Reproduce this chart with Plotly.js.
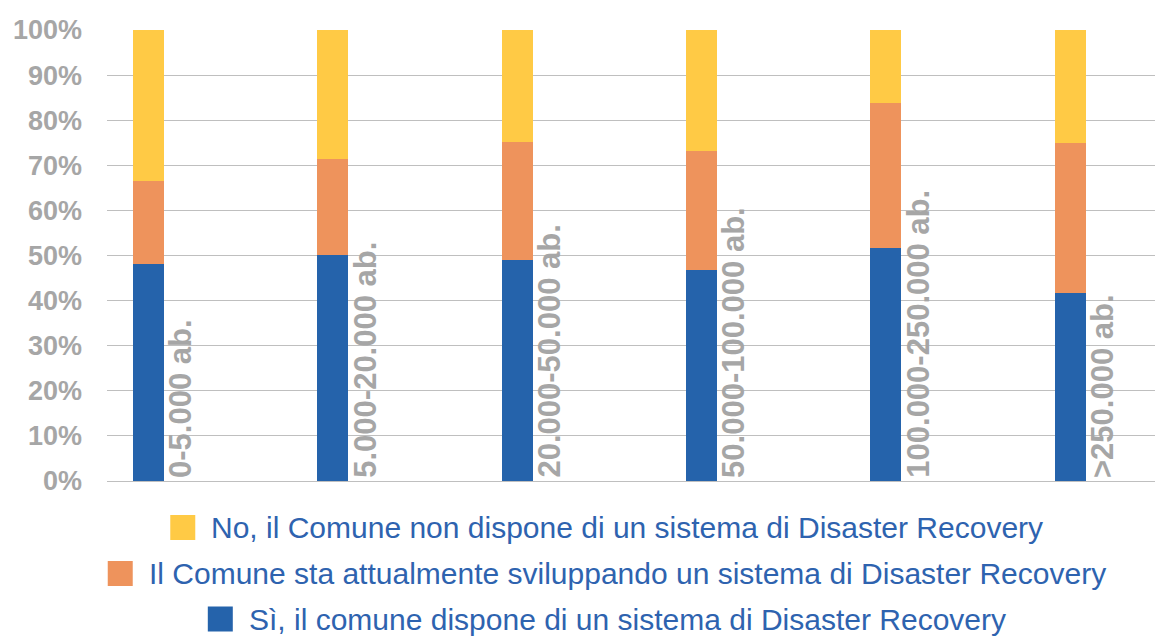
<!DOCTYPE html>
<html>
<head>
<meta charset="utf-8">
<script src="https://cdn.plot.ly/plotly-3.0.1.min.js"></script>
<style>
  html, body { margin: 0; padding: 0; background: #ffffff; }
  #chart { width: 1155px; height: 636px; }
</style>
</head>
<body>
<div id="chart"></div>
<script>
// Fasce di popolazione dei Comuni
const categories = ['0-5.000 ab.', '5.000-20.000 ab.', '20.000-50.000 ab.', '50.000-100.000 ab.', '100.000-250.000 ab.', '>250.000 ab.'];

// Quote percentuali per risposta
const siValues       = [48.2, 50.2, 49.0, 46.8, 51.6, 41.7];
const sviluppoValues = [18.3, 21.2, 26.2, 26.4, 32.2, 33.3];
const noValues       = [33.5, 28.6, 24.8, 26.8, 16.2, 25.0];

const seriesNames = {
  si: 'Sì, il comune dispone di un sistema di Disaster Recovery',
  sviluppo: 'Il Comune sta attualmente sviluppando un sistema di Disaster Recovery',
  no: 'No, il Comune non dispone di un sistema di Disaster Recovery'
};

const COLORS = { si: '#2563AB', sviluppo: '#EE935C', no: '#FFCA45' };

const W = 1155, H = 636;
const M = { l: 107, r: 0, t: 30, b: 155 };
const plotW = W - M.l - M.r, plotH = H - M.t - M.b;
const BAR_W = 0.168;
const X_RANGE = [-0.225, 5.461];

function barTrace(name, values, color) {
  return {
    type: 'bar', name: name, x: categories, y: values, width: BAR_W,
    marker: { color: color, line: { width: 0 } },
    showlegend: false, hoverinfo: 'x+y+name'
  };
}

const traces = [
  barTrace(seriesNames.si, siValues, COLORS.si),
  barTrace(seriesNames.sviluppo, sviluppoValues, COLORS.sviluppo),
  barTrace(seriesNames.no, noValues, COLORS.no)
];

// Etichette delle fasce, ruotate, accanto a ciascuna colonna
const pxPerUnit = plotW / (X_RANGE[1] - X_RANGE[0]);
const halfBarPx = BAR_W * pxPerUnit / 2;
const annotations = categories.map(c => ({
  x: c, y: 0, xref: 'x', yref: 'y',
  text: c, textangle: -90, showarrow: false,
  xanchor: 'left', yanchor: 'bottom',
  xshift: halfBarPx - 3, yshift: 1,
  font: { family: 'Liberation Sans, Arial, sans-serif', size: 31, color: '#A6A6A6', weight: 'bold' }
}));

// Legenda centrata su tre righe
const LEG_FONT = { family: 'Liberation Sans, Arial, sans-serif', size: 30, color: '#2E63AF' };
const legendRows = [
  { name: seriesNames.no, color: COLORS.no, cy: 527.5 },
  { name: seriesNames.sviluppo, color: COLORS.sviluppo, cy: 573.5 },
  { name: seriesNames.si, color: COLORS.si, cy: 619 }
];
const ctx = document.createElement('canvas').getContext('2d');
ctx.font = LEG_FONT.size + 'px "Liberation Sans", Arial, sans-serif';
const SW = 25, GAP = 15, LEG_CENTER = 606.3;
const toPaperX = px => (px - M.l) / plotW;
const toPaperY = py => (H - M.b - py) / plotH;
const shapes = [];
legendRows.forEach(row => {
  const tw = ctx.measureText(row.name).width;
  const start = LEG_CENTER - (SW + GAP + tw) / 2;
  shapes.push({
    type: 'rect', xref: 'paper', yref: 'paper', layer: 'above',
    x0: toPaperX(start), x1: toPaperX(start + SW),
    y0: toPaperY(row.cy + SW / 2), y1: toPaperY(row.cy - SW / 2),
    fillcolor: row.color, line: { width: 0 }
  });
  annotations.push({
    xref: 'paper', yref: 'paper', x: toPaperX(start + SW + GAP), y: toPaperY(row.cy),
    xanchor: 'left', yanchor: 'middle', showarrow: false,
    text: row.name, font: LEG_FONT, borderpad: 0
  });
});

const layout = {
  width: W, height: H,
  margin: M,
  paper_bgcolor: '#ffffff', plot_bgcolor: '#ffffff',
  barmode: 'stack',
  showlegend: false,
  xaxis: {
    type: 'category', range: X_RANGE, showticklabels: false,
    showgrid: false, zeroline: false, showline: false, ticks: ''
  },
  yaxis: {
    range: [0, 100], dtick: 10, ticksuffix: '%',
    showgrid: true, gridcolor: '#BFBFBF', gridwidth: 1,
    zeroline: true, zerolinecolor: '#BFBFBF', zerolinewidth: 1,
    showline: false, ticks: '', ticklabelstandoff: 24,
    tickfont: { family: 'Liberation Sans, Arial, sans-serif', size: 27, color: '#A6A6A6', weight: 'bold' }
  },
  annotations: annotations,
  shapes: shapes
};

Plotly.newPlot('chart', traces, layout, { displayModeBar: false, staticPlot: true });
</script>
</body>
</html>
